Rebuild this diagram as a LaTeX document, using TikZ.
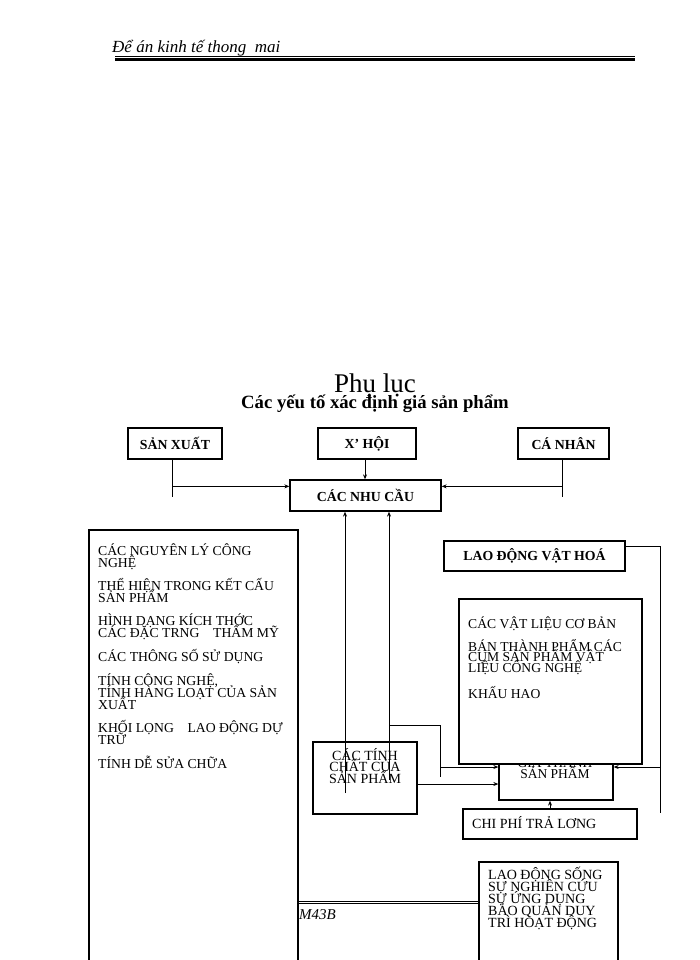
\documentclass[tikz,border=0pt]{standalone}
\usepackage{fontspec}
\setmainfont{Liberation Serif}
\usetikzlibrary{arrows.meta}
\newcommand{\sathang}{\lineskiplimit=-50pt\relax}

\tikzset{
  hop/.style={draw, line width=1.3pt, fill=white, inner sep=0pt},
  nhan/.style={font=\fontsize{13.8}{13}\selectfont\bfseries},
  chu/.style={font=\fontsize{13.7}{12}\selectfont\sathang, align=left, inner sep=0pt},
  noi/.style={line width=0.9pt},
}

\begin{document}
\begin{tikzpicture}[x=1pt, y=-1pt, >={Stealth[length=5pt,width=4pt]}]
            \useasboundingbox (0,0) rectangle (700,960);
            % dau trang
            \node[anchor=base west, inner sep=0pt, font=\fontsize{17}{17}\selectfont\itshape] (dautrang) at (112,53) {Để án kinh tế thong\ \ mai};
            \draw[line width=0.8pt] (115,56) -- (635,56);
            \draw[line width=2.4pt] (115,59.5) -- (635,59.5);
            \node[anchor=base, inner sep=0pt, font=\fontsize{27}{27}\selectfont] (phuluc) at (375,392) {Phụ lục};
            \node[anchor=base, inner sep=0pt, font=\fontsize{18.7}{18}\selectfont\bfseries] (tieude) at (375,408) {Các yếu tố xác định giá sản phẩm};
            % hang tren
            \node[hop, nhan, minimum width=94pt, minimum height=31pt] (sanxuat) at (175,443.5) {SẢN XUẤT};
            \node[hop, nhan, minimum width=98pt, minimum height=31pt] (xahoi) at (367,443.5) {X' HỘI};
            \node[hop, nhan, minimum width=91pt, minimum height=31pt] (canhan) at (563.5,443.5) {CÁ NHÂN};
            \node[hop, nhan, minimum width=151pt, minimum height=31pt] (nhucau) at (365.5,495.5) {CÁC NHU CẦU};
            \draw[noi, ->] ([xshift=-3pt]sanxuat.south) |- ([yshift=-7pt]nhucau.north west);
            \draw[noi] ([xshift=-3pt]sanxuat.south) -- ++(0,37);
            \draw[noi, ->] ([xshift=-2pt]xahoi.south) -- ([xshift=-2pt]xahoi.south |- nhucau.north);
            \draw[noi, ->] ([xshift=-1.5pt]canhan.south) |- ([yshift=-7pt]nhucau.north east);
            \draw[noi] ([xshift=-1.5pt]canhan.south) -- ++(0,37);
            % cot trai
            \node[hop, minimum width=209pt, minimum height=445pt] (nguyenly) at (193.5,752.5) {};
            \node[chu, anchor=base west] (nguyenlychu) at (98,768) {CÁC NGUYÊN LÝ CÔNG\\NGHỆ\\[11pt]
              THỂ HIỆN TRONG KẾT CẤU\\SẢN PHẨM\\[11pt]
              HÌNH DẠNG KÍCH THỚC\\CÁC ĐẶC TRNG\quad THẨM MỸ\\[12pt]
              CÁC THÔNG SỐ SỬ DỤNG\\[12pt]
              TÍNH CÔNG NGHỆ,\\TÍNH HÀNG LOẠT CỦA SẢN\\XUẤT\\[11pt]
              KHỐI LỌNG\quad LAO ĐỘNG DỰ\\TRỮ\\[12pt]
              TÍNH DỄ SỬA CHỮA};
            % chan trang
            \node[hop, minimum width=139pt, minimum height=110pt] (song) at (548.5,917) {};
            \node[chu, anchor=base west, font=\fontsize{14}{12}\selectfont\sathang] (songchu) at (488,927) {LAO ĐỘNG SỐNG\\SỰ NGHIÊN CỨU\\SỰ ỨNG DỤNG\\BẢO QUẢN DUY\\TRÌ HOẠT ĐỘNG};
            \coordinate (chantrang) at (0,902.5);
            \draw[line width=1.3pt, double, double distance=0.8pt] (nguyenly.east |- chantrang) -- (song.west |- chantrang);
            \node[anchor=base west, inner sep=0pt, font=\fontsize{15}{15}\selectfont\itshape] (lop) at (299,919) {M43B};
            % ben phai
            \node[hop, nhan, minimum width=181pt, minimum height=30pt] (vathoa) at (534.5,556) {LAO ĐỘNG VẬT HOÁ};
            \node[hop, minimum width=114pt, minimum height=37pt] (giathanh) at (556,781.5) {};
            \node[chu, align=center, anchor=base, font=\fontsize{13.5}{11}\selectfont\sathang] (giathanhchu) at (555,778) {GIÁ THÀNH\\SẢN PHẨM};
            \node[hop, minimum width=183pt, minimum height=165pt] (vatlieu) at (550.5,681.5) {};
            \node[chu, anchor=base west, font=\fontsize{13.6}{10.5}\selectfont\sathang] (vatlieuchu) at (468,698) {CÁC VẬT LIỆU CƠ BẢN\\[12.5pt]
              BÁN THÀNH PHẨM CÁC\\CỤM SẢN PHẨM VẬT\\LIỆU CÔNG NGHỆ\\[15.5pt]
              KHẤU HAO};
            \node[hop, minimum width=174pt, minimum height=30pt] (traluong) at (550,824) {};
            \node[anchor=base west, inner sep=0pt, font=\fontsize{14}{14}\selectfont] (traluongchu) at (472,828) {CHI PHÍ TRẢ LƠNG};
            \node[hop, minimum width=104pt, minimum height=72pt] (tinhchat) at (365,778) {};
            \node[chu, align=center, anchor=base, font=\fontsize{14}{11.5}\selectfont\sathang] (tinhchatchu) at (365,783) {CÁC TÍNH\\CHẤT CỦA\\SẢN PHẨM};
            % cac duong noi
            \coordinate (tc1) at (345,793);
            \coordinate (tc2) at (389,780);
            \draw[noi, ->] (tc1) -- (tc1 |- nhucau.south);
            \draw[noi, ->] (tc2) -- (tc2 |- nhucau.south);
            \coordinate (re1) at (389,725);
            \coordinate (re2) at (440,777);
            \coordinate (re3) at (440,767);
            \draw[noi] (re1) -| (re2);
            \draw[noi, ->] (re3) -- (re3 -| giathanh.west);
            \draw[noi, ->] ([yshift=-6pt]tinhchat.east) -- ([yshift=-6pt]tinhchat.east -| giathanh.west);
            \coordinate (vh1) at (660,813);
            \coordinate (vh2) at (660,767);
            \draw[noi] ([yshift=10pt]vathoa.east) -| (vh1);
            \draw[noi, ->] (vh2) -- (vh2 -| giathanh.east);
            \draw[noi, ->] (traluong.north) -- (traluong.north |- giathanh.south);
        \end{tikzpicture}
\end{document}
